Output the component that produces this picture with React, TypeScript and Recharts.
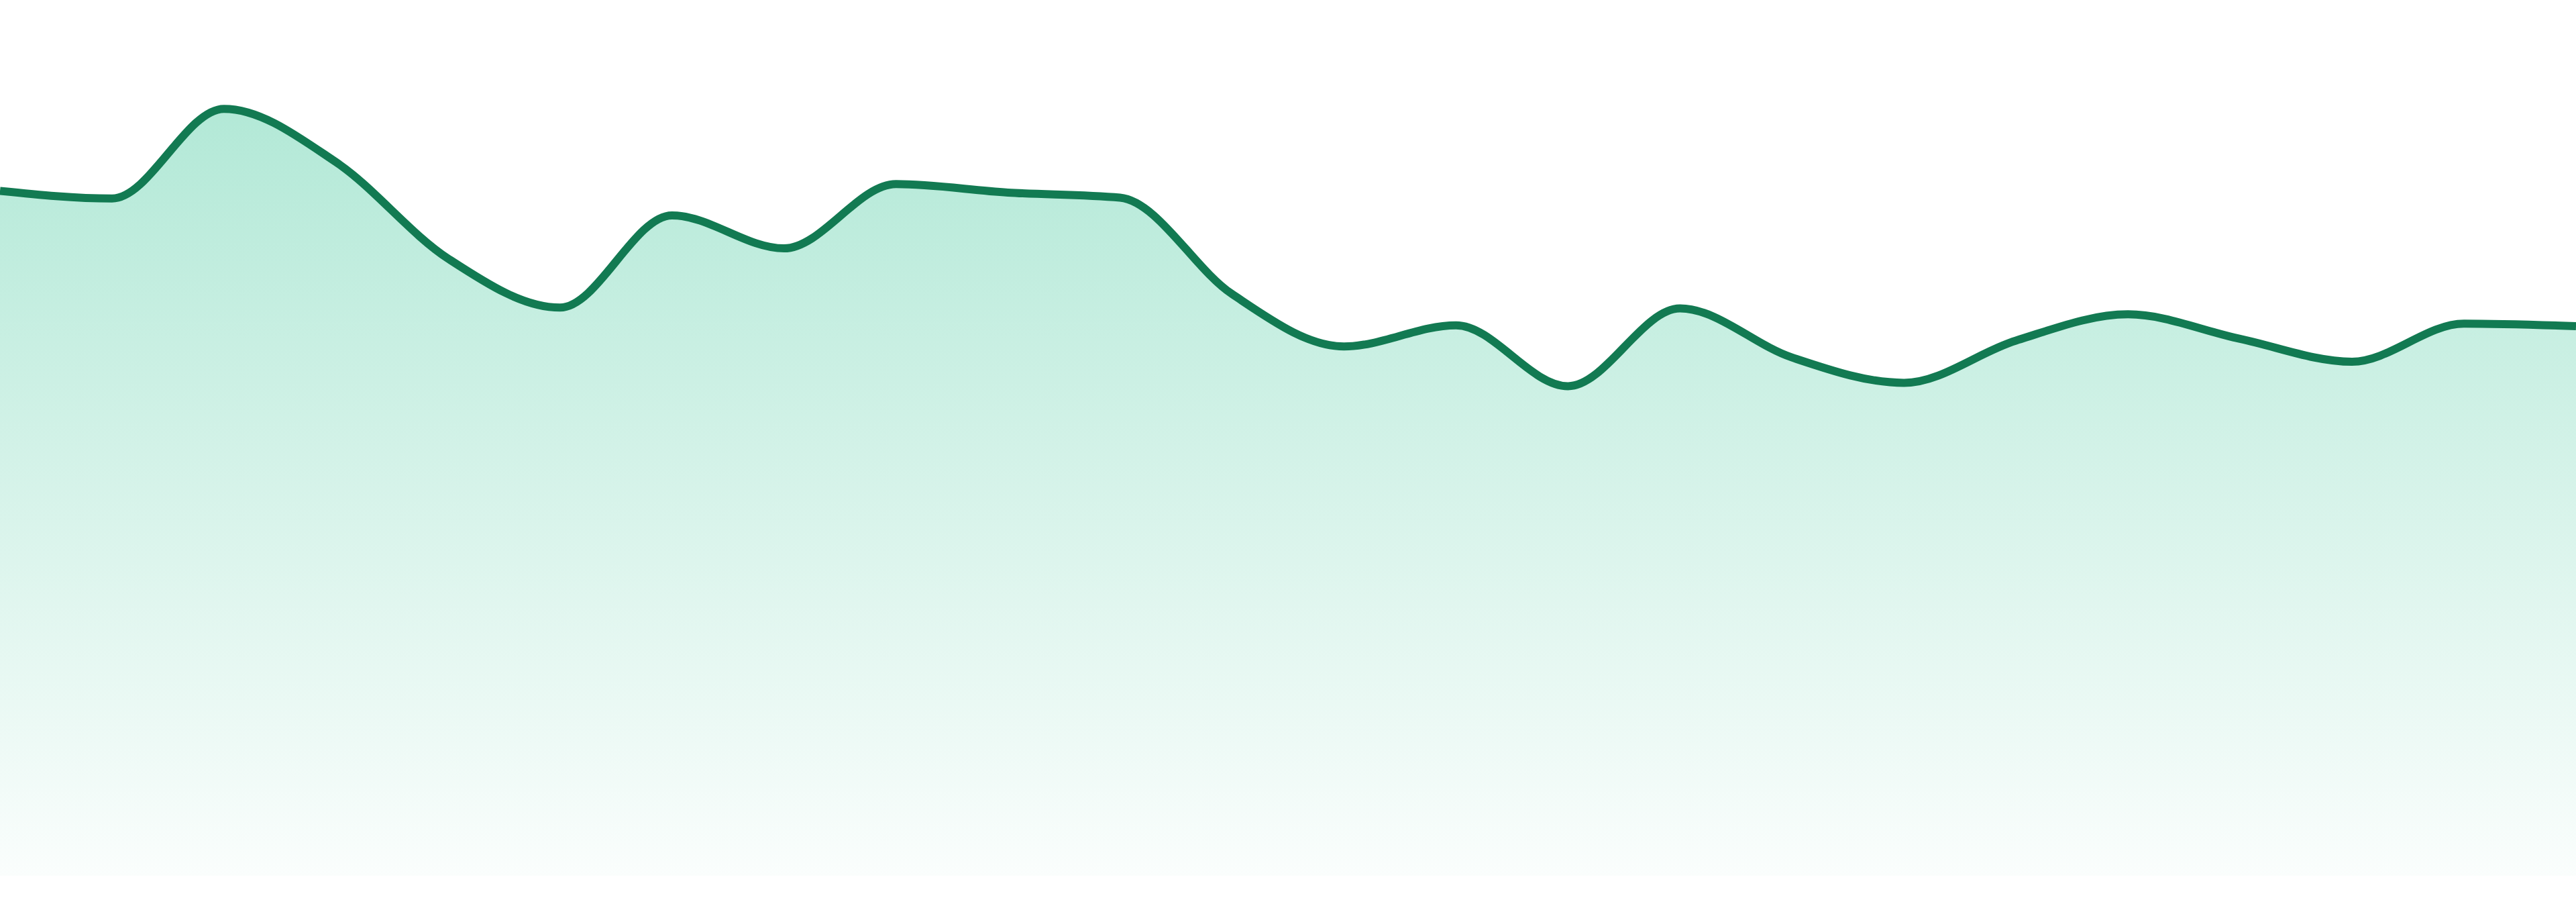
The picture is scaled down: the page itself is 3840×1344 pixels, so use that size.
import React from 'react';
import { AreaChart, Area, XAxis, YAxis } from 'recharts';

// Daily labels for the x categories (axis is hidden in the picture)
const days = [
  'D1', 'D2', 'D3', 'D4', 'D5', 'D6', 'D7', 'D8', 'D9', 'D10', 'D11', 'D12',
  'D13', 'D14', 'D15', 'D16', 'D17', 'D18', 'D19', 'D20', 'D21', 'D22', 'D23', 'D24',
];

// Values
const values = [
  81.0, 80.1, 90.7, 84.4, 73.0, 67.2, 78.1, 74.2, 81.8, 80.8, 80.2, 68.8,
  62.6, 65.1, 57.9, 67.1, 61.3, 58.3, 63.3, 66.4, 63.5, 60.8, 65.3, 65.0,
];

const yDomain = [0, 100];

const data = days.map((day, i) => ({ day, value: values[i] }));

const App: React.FC = () => {
  return (
    <div style={{ position: 'absolute', left: 0, top: 0, width: 3840, height: 1344, background: '#fff' }}>
      <AreaChart
        width={3840}
        height={1344}
        data={data}
        margin={{ top: 45, right: 0, left: 0, bottom: 39 }}
      >
        <defs>
          <linearGradient id="fillValue" x1="0" y1="0" x2="0" y2="1">
            <stop offset="0%" stopColor="#10b981" stopOpacity={0.32} />
            <stop offset="100%" stopColor="#10b981" stopOpacity={0.02} />
          </linearGradient>
        </defs>
        <XAxis dataKey="day" hide />
        <YAxis hide domain={yDomain} />
        <Area
          type="monotone"
          dataKey="value"
          stroke="#127a52"
          strokeWidth={12}
          fill="url(#fillValue)"
          fillOpacity={1}
          dot={false}
          activeDot={false}
          isAnimationActive={false}
        />
      </AreaChart>
    </div>
  );
};

export default App;
